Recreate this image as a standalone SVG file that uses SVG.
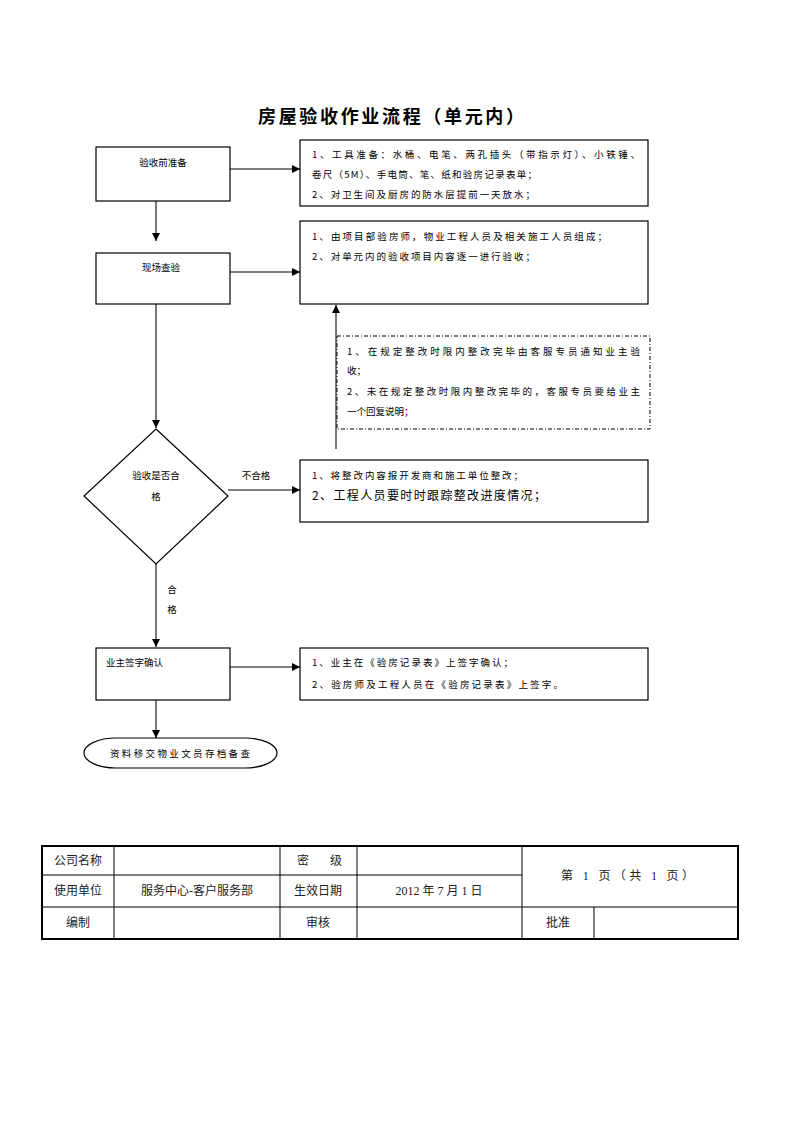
<svg xmlns="http://www.w3.org/2000/svg" width="793" height="1122" viewBox="0 0 793 1122">
<defs>
<marker id="ah" viewBox="0 0 10 10" refX="10" refY="5" markerWidth="8" markerHeight="8" markerUnits="userSpaceOnUse" orient="auto">
<path d="M0,0 L10,5 L0,10 z" fill="#000"/>
</marker>
<style>
.box{fill:#fff;stroke:#000;stroke-width:1.2}
.dash{fill:none;stroke:#000;stroke-width:1;stroke-dasharray:4 2 1 2}
.con{fill:none;stroke:#555;stroke-width:1.6;marker-end:url(#ah)}
.t{font-family:"Noto Sans CJK SC","Liberation Serif",serif;font-size:9.5px;fill:#000}
.tl{font-family:"Noto Sans CJK SC","Liberation Serif",serif;font-size:12px;fill:#000}
.title{font-family:"Noto Sans CJK SC",sans-serif;font-size:18px;font-weight:bold;fill:#000}
.tb{font-family:"Liberation Serif","Noto Sans CJK SC",serif;font-size:12px;fill:#222}
.grid{stroke:#000;stroke-width:1;fill:none}
.outer{stroke:#000;stroke-width:2;fill:none}
</style>
</defs>
<rect width="793" height="1122" fill="#fff"/>
<text class="title" x="391" y="123" text-anchor="middle" textLength="266" lengthAdjust="spacing">房屋验收作业流程（单元内）</text>

<g id="connectors">
<line class="con" x1="230" y1="169" x2="300" y2="169"/>
<line class="con" x1="156" y1="201" x2="156" y2="241"/>
<line class="con" x1="230" y1="272" x2="300" y2="272"/>
<line class="con" x1="156" y1="304" x2="156" y2="428"/>
<line class="con" x1="336" y1="449" x2="336" y2="305"/>
<line class="con" x1="228" y1="490" x2="300" y2="490"/>
<line class="con" x1="156" y1="564" x2="156" y2="647"/>
<line class="con" x1="230" y1="667" x2="300" y2="667"/>
<line class="con" x1="156" y1="700" x2="156" y2="738"/>
<text class="t" x="256" y="479" text-anchor="middle">不合格</text>
<text class="t" x="172" y="593" text-anchor="middle">合</text>
<text class="t" x="172" y="613" text-anchor="middle">格</text>
</g>

<g id="n1">
<rect class="box" x="96" y="147" width="134" height="54"/>
<text class="t" x="163" y="166" text-anchor="middle">验收前准备</text>
</g>
<g id="n1note">
<rect class="box" x="300" y="140" width="348" height="66"/>
<text class="t" x="312" y="158" textLength="328" lengthAdjust="spacing">1、工具准备：水桶、电笔、两孔插头（带指示灯）、小铁锤、</text>
<text class="t" x="312" y="178" textLength="225" lengthAdjust="spacing">卷尺（5M）、手电筒、笔、纸和验房记录表单；</text>
<text class="t" x="312" y="198" textLength="223" lengthAdjust="spacing">2、对卫生间及厨房的防水层提前一天放水；</text>
</g>

<g id="n2">
<rect class="box" x="96" y="253" width="134" height="51"/>
<text class="t" x="161" y="271" text-anchor="middle">现场查验</text>
</g>
<g id="n2note">
<rect class="box" x="300" y="221" width="348" height="83"/>
<text class="t" x="312" y="240" textLength="295" lengthAdjust="spacing">1、由项目部验房师，物业工程人员及相关施工人员组成；</text>
<text class="t" x="312" y="260" textLength="223" lengthAdjust="spacing">2、对单元内的验收项目内容逐一进行验收；</text>
</g>

<g id="n2b">
<rect class="dash" x="337" y="336" width="313" height="93"/>
<text class="t" x="347" y="355" textLength="293" lengthAdjust="spacing">1、在规定整改时限内整改完毕由客服专员通知业主验</text>
<text class="t" x="347" y="374">收；</text>
<text class="t" x="347" y="395" textLength="293" lengthAdjust="spacing">2、未在规定整改时限内整改完毕的，客服专员要给业主</text>
<text class="t" x="347" y="415">一个回复说明；</text>
</g>

<g id="n3">
<polygon class="box" points="156,429 228,496 156,564 84,496"/>
<text class="t" x="156" y="479" text-anchor="middle">验收是否合</text>
<text class="t" x="156" y="500" text-anchor="middle">格</text>
</g>
<g id="n3note">
<rect class="box" x="300" y="460" width="348" height="62"/>
<text class="t" x="312" y="479" textLength="211" lengthAdjust="spacing">1、将整改内容报开发商和施工单位整改；</text>
<text class="tl" x="312" y="500" textLength="234" lengthAdjust="spacing">2、工程人员要时时跟踪整改进度情况；</text>
</g>

<g id="n4">
<rect class="box" x="96" y="648" width="134" height="52"/>
<text class="t" x="106" y="666">业主签字确认</text>
</g>
<g id="n4note">
<rect class="box" x="300" y="648" width="348" height="52"/>
<text class="t" x="312" y="666" textLength="201" lengthAdjust="spacing">1、业主在《验房记录表》上签字确认；</text>
<text class="t" x="312" y="688" textLength="251" lengthAdjust="spacing">2、验房师及工程人员在《验房记录表》上签字。</text>
</g>

<g id="n5">
<rect class="box" x="84" y="738" width="193" height="30" rx="32" ry="15"/>
<text class="t" x="180" y="757" text-anchor="middle" textLength="140" lengthAdjust="spacing">资料移交物业文员存档备查</text>
</g>

<g id="table">
<line class="grid" x1="42" y1="875" x2="522" y2="875"/>
<line class="grid" x1="42" y1="907" x2="738" y2="907"/>
<line class="grid" x1="114" y1="846" x2="114" y2="939"/>
<line class="grid" x1="280" y1="846" x2="280" y2="939"/>
<line class="grid" x1="357" y1="846" x2="357" y2="939"/>
<line class="grid" x1="522" y1="846" x2="522" y2="939"/>
<line class="grid" x1="594" y1="907" x2="594" y2="939"/>
<rect class="outer" x="42" y="846" width="696" height="93"/>
<text class="tb" x="78" y="865" text-anchor="middle">公司名称</text>
<text class="tb" x="297" y="865">密</text>
<text class="tb" x="330" y="865">级</text>
<text class="tb" x="78" y="895" text-anchor="middle">使用单位</text>
<text class="tb" x="197" y="895" text-anchor="middle">服务中心-客户服务部</text>
<text class="tb" x="318" y="895" text-anchor="middle">生效日期</text>
<text class="tb" x="439" y="895" text-anchor="middle">2012 年 7 月 1 日</text>
<text class="tb" x="561" y="880" textLength="133" lengthAdjust="spacing">第 1 页（共 1 页）</text>
<text class="tb" x="78" y="927" text-anchor="middle">编制</text>
<text class="tb" x="318" y="927" text-anchor="middle">审核</text>
<text class="tb" x="558" y="927" text-anchor="middle">批准</text>
</g>
</svg>
